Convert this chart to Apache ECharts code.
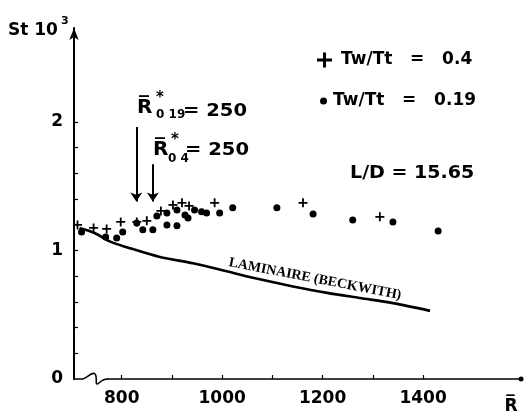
<!DOCTYPE html>
<html><head><meta charset="utf-8">
<script src="https://cdn.jsdelivr.net/npm/echarts@6/dist/echarts.min.js"></script>
<style>html,body{margin:0;padding:0;background:#fff}#c{width:526px;height:416px}</style>
</head><body><div id="c"></div>
<script>
const FONT = 'DejaVu Sans';
const xTickValues = [800, 900, 1000, 1100, 1200, 1300, 1400];
const xLabelValues = [800, 1000, 1200, 1400];
const yTickValues = [0.2, 0.4, 0.6, 0.8, 1.0, 1.2, 1.4, 1.6, 1.8, 2.0];
const yLabelValues = [0, 1, 2];

const seriesNames = ['Tw/Tt = 0.4', 'Tw/Tt = 0.19', 'LAMINAIRE (BECKWITH)'];
const crossX = [712, 744, 770, 798, 830, 850, 878, 902, 920, 934, 985, 1161, 1314];
const crossY = [1.198, 1.175, 1.167, 1.222, 1.222, 1.230, 1.307, 1.354, 1.370, 1.346, 1.370, 1.370, 1.261];
const dotX = [720, 768, 790, 802, 830, 842, 862, 870, 890, 890, 910, 910, 926, 932, 945, 959, 969, 995, 1021, 1109, 1181, 1260, 1340, 1430];
const dotY = [1.144, 1.105, 1.097, 1.144, 1.214, 1.160, 1.160, 1.268, 1.198, 1.292, 1.191, 1.315, 1.276, 1.253, 1.315, 1.300, 1.292, 1.292, 1.331, 1.331, 1.284, 1.237, 1.222, 1.152];
const laminarX = [716, 746, 776, 810, 876, 942, 1009, 1075, 1141, 1209, 1274, 1340, 1414];
const laminarY = [1.175, 1.136, 1.070, 1.025, 0.949, 0.900, 0.838, 0.775, 0.720, 0.670, 0.630, 0.590, 0.530];
const arrowX = [829, 862];
const arrowTop = [1.96, 1.67];
const arrowBottom = [1.38, 1.38];

const zip = (a, b) => a.map((v, i) => [v, b[i]]);
const crossPath = 'path://M4,0H6V4H10V6H6V10H4V6H0V4H4Z';

const chart = echarts.init(document.getElementById('c'), null, {renderer: 'canvas'});
const txt = (text, x, y, size, extra) => Object.assign({
  type: 'text', x: x, y: y, z: 100,
  style: Object.assign({text: text, fill: '#000', font: 'bold ' + size + 'px "' + FONT + '"',
    align: 'left', verticalAlign: 'middle', textAlign: 'left', textVerticalAlign: 'middle'}, extra || {})
});

chart.setOption({
  animation: false,
  backgroundColor: '#fff',
  grid: {left: 74, right: 5, top: 28, bottom: 37, containLabel: false},
  xAxis: {
    type: 'value', min: 705, max: 1595,
    axisLine: {show: true, lineStyle: {color: '#000', width: 1.6}, symbol: ['none', 'circle'], symbolSize: [5, 5]},
    axisTick: {show: true, inside: true, length: 4, customValues: xTickValues, lineStyle: {color: '#000', width: 1.2}},
    axisLabel: {customValues: xLabelValues, formatter: v => String(v), margin: 11, color: '#000', fontFamily: FONT, fontWeight: 'bold', fontSize: 17},
    splitLine: {show: false}
  },
  yAxis: {
    type: 'value', min: 0, max: 2.73,
    axisLine: {show: true, lineStyle: {color: '#000', width: 2}, symbol: ['none', 'arrow'], symbolSize: [7, 12]},
    axisTick: {show: true, inside: true, length: 4, customValues: yTickValues, lineStyle: {color: '#000', width: 1.2}},
    axisLabel: {customValues: yLabelValues, formatter: v => String(v), margin: 11, color: '#000', fontFamily: FONT, fontWeight: 'bold', fontSize: 17},
    splitLine: {show: false}
  },
  legend: [
    {
      data: [{name: seriesNames[0], icon: crossPath}],
      left: 317, top: 50, padding: 0, itemWidth: 15, itemHeight: 15,
      textStyle: {color: '#000', fontFamily: FONT, fontWeight: 'bold', fontSize: 17, lineHeight: 20, padding: [0, 0, 0, 4]},
      formatter: n => n.replace(' = ', '   =   '),
      selectedMode: false
    },
    {
      data: [{name: seriesNames[1], icon: 'circle'}],
      left: 320, top: 91, padding: 0, itemWidth: 7, itemHeight: 7,
      textStyle: {color: '#000', fontFamily: FONT, fontWeight: 'bold', fontSize: 17, lineHeight: 20, padding: [0, 0, 0, 1]},
      formatter: n => n.replace(' = ', '   =   '),
      selectedMode: false
    }
  ],
  series: [
    {
      name: seriesNames[0], type: 'scatter', data: zip(crossX, crossY),
      symbol: crossPath, symbolSize: 9, itemStyle: {color: '#000', opacity: 1}, z: 5
    },
    {
      name: seriesNames[1], type: 'scatter', data: zip(dotX, dotY),
      symbol: 'circle', symbolSize: 7, itemStyle: {color: '#000', opacity: 1}, z: 5
    },
    {
      name: seriesNames[2], type: 'line', data: zip(laminarX, laminarY),
      smooth: 0.3, showSymbol: false, symbol: 'none',
      lineStyle: {color: '#000', width: 2.6}, z: 3,
      markLine: {
        silent: true, symbol: ['none', 'arrow'], symbolSize: 9,
        lineStyle: {color: '#000', width: 2, type: 'solid'},
        label: {show: false},
        data: arrowX.map((x, i) => [{coord: [x, arrowTop[i]]}, {coord: [x, arrowBottom[i]]}])
      }
    }
  ]
});

// axis break squiggle and annotations
const o = chart.convertToPixel({gridIndex: 0}, [705, 0]);
chart.setOption({
  graphic: [
    {type: 'rect', z: 90, shape: {x: o[0] + 9, y: o[1] - 3, width: 24, height: 6}, style: {fill: '#fff'}},
    {type: 'bezierCurve', z: 91, shape: {x1: o[0] + 9, y1: o[1], cpx1: o[0] + 15, cpy1: o[1] - 2, cpx2: o[0] + 18, cpy2: o[1] - 8, x2: o[0] + 21, y2: o[1] - 5},
      style: {fill: 'none', stroke: '#000', lineWidth: 1.6}},
    {type: 'bezierCurve', z: 91, shape: {x1: o[0] + 21, y1: o[1] - 5, cpx1: o[0] + 24, cpy1: o[1] - 2, cpx2: o[0] + 20, cpy2: o[1] + 8, x2: o[0] + 25, y2: o[1] + 4},
      style: {fill: 'none', stroke: '#000', lineWidth: 1.6}},
    {type: 'bezierCurve', z: 91, shape: {x1: o[0] + 25, y1: o[1] + 4, cpx1: o[0] + 28, cpy1: o[1] + 1, cpx2: o[0] + 31, cpy2: o[1], x2: o[0] + 34, y2: o[1]},
      style: {fill: 'none', stroke: '#000', lineWidth: 1.6}},
    txt('St 10', 8, 31, 17),
    txt('3', 61, 21, 11),
    txt('R\u0305', 511, 407, 17, {align: 'center', textAlign: 'center'}),
    txt('R\u0305', 137, 108, 20),
    txt('*', 156, 98, 15),
    txt('0 19', 156, 115, 12),
    Object.assign(txt('= 250', 183, 112, 17), {scaleX: 1.15}),
    txt('R\u0305', 153, 150, 20),
    txt('*', 171, 140, 15),
    txt('0 4', 168, 159, 12),
    Object.assign(txt('= 250', 185, 151, 17), {scaleX: 1.15}),
    Object.assign(txt('L/D = 15.65', 350, 174, 17), {scaleX: 1.12}),
    Object.assign(txt('LAMINAIRE (BECKWITH)', 315, 279, 14, {align: 'center', textAlign: 'center', font: 'bold 14px "Liberation Serif"'}), {rotation: -0.19})
  ]
});
</script></body></html>
